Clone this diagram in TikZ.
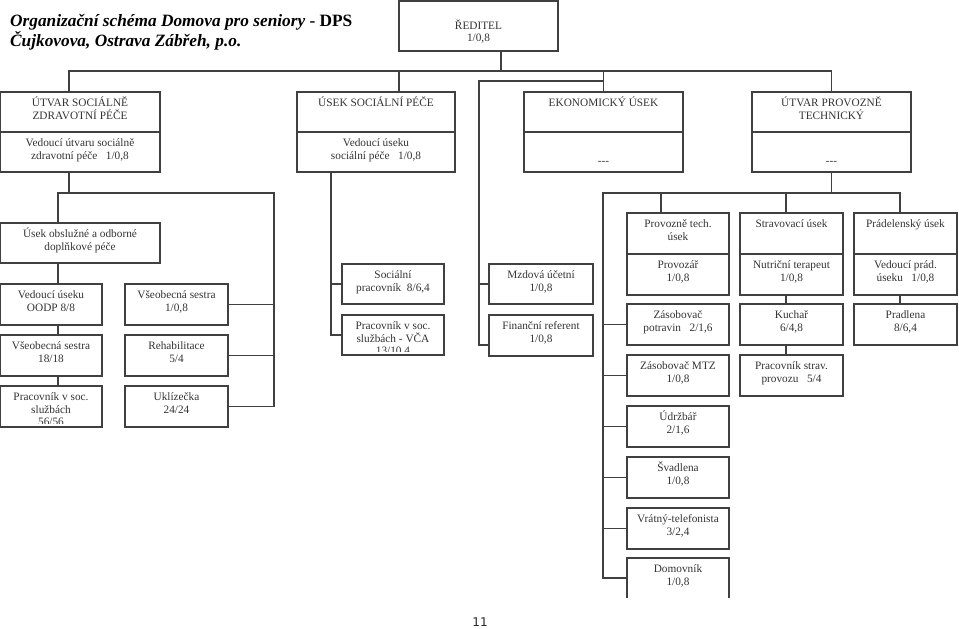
\documentclass[tikz,border=0pt]{standalone}
\usepackage{fontspec}
\setmainfont{Liberation Serif}
\newfontfamily\titlebi{Liberation Serif Bold Italic}
\newfontfamily\titleb{Liberation Serif Bold}
\newfontfamily\pagefont{DejaVu Sans}
\usetikzlibrary{positioning}
\definecolor{linegray}{gray}{0.25}
\definecolor{textgray}{gray}{0.2}
\newcommand{\boxfont}{\fontsize{11.3}{12.7}\selectfont}

\begin{document}
\begin{tikzpicture}[x=1pt,y=-1pt,
% Box and text style
    textpad/.store in=\textpad, textpad=14.5pt,
    box/.style={rectangle,draw=linegray,line width=1.1pt,inner sep=0pt,
		outer sep=0pt,anchor=north west,minimum width=103pt,
		minimum height=41pt,
		path picture={\clip ([yshift=4pt]path picture bounding box.south west)
			rectangle (path picture bounding box.north east);
		  \node[boxtext] at ([yshift=-\textpad]path picture bounding box.north)
			{\parbox[t]{200pt}{\centering\boxfont #1}};}},
    boxtext/.style={anchor=base,inner sep=0pt,minimum width=0pt,
		minimum height=0pt,text=textgray},
    wide/.style={minimum width=159pt,minimum height=40pt},
% Connector style
    line/.style={draw=linegray,line width=1.1pt},
    node distance=10pt
    ]
    \useasboundingbox (0,0) rectangle (959,629);
%% Title and page number
    \node[anchor=base west,inner sep=0pt] (title) at (10,27)
	{\parbox[t]{400pt}{\fontsize{17.3}{20}\selectfont
	{\titlebi Organizační schéma Domova pro seniory }{\titleb - DPS}\\
	{\titlebi Čujkovova, Ostrava Zábřeh, p.o.}}};
    \node[font=\pagefont\fontsize{12}{14}\selectfont,text=black!85] (pagenum)
	at (480,622) {11};
%% Director and divisions
    \node[box={ŘEDITEL\\[-1.7pt]1/0,8},wide,minimum height=50pt,
	textpad=29pt] (dir) at (399,1) {};
    \node[box={ÚTVAR SOCIÁLNĚ\\ZDRAVOTNÍ PÉČE},wide,minimum width=160pt]
	(utvar) at (0,92) {};
    \node[box={Vedoucí útvaru sociálně\\zdravotní péče~~~1/0,8},wide,
	minimum width=160pt,below=0pt of utvar] (utvarv) {};
    \node[box={ÚSEK SOCIÁLNÍ PÉČE},wide,minimum width=158pt] (usek) at (297,92) {};
    \node[box={Vedoucí úseku\\sociální péče~~~1/0,8},wide,minimum width=158pt,
	below=0pt of usek] (usekv) {};
    \node[box={EKONOMICKÝ ÚSEK},wide] (ekon) at (524,92) {};
    \node[box={\mbox{-}\mbox{-}\mbox{-}},wide,textpad=32pt,
	below=0pt of ekon] (ekonv) {};
    \node[box={ÚTVAR PROVOZNĚ\\TECHNICKÝ},wide] (prov) at (752,92) {};
    \node[box={\mbox{-}\mbox{-}\mbox{-}},wide,textpad=32pt,
	below=0pt of prov] (provv) {};
%% Social and health care
    \node[box={Úsek obslužné a odborné\\doplňkové péče},wide,minimum width=160pt]
	(obsl) at (0,223) {};
    \node[box={Vedoucí úseku\\OODP 8/8},minimum width=102pt] (vedo) at (0,284) {};
    \node[box={Všeobecná sestra\\18/18},minimum width=102pt,
	below=of vedo] (sestra18) {};
    \node[box={Pracovník v soc.\\službách\\56/56},minimum width=102pt,
	below=of sestra18] (prac56) {};
    \node[box={Všeobecná sestra\\1/0,8}] (sestra1) at (125,284) {};
    \node[box={Rehabilitace\\5/4},below=of sestra1] (rehab) {};
    \node[box={Uklízečka\\24/24},below=of rehab] (ukliz) {};
%% Social care
    \node[box={Sociální\\pracovník~~8/6,4},minimum width=102pt,
	minimum height=40pt] (socprac) at (342,264) {};
    \node[box={Pracovník v soc.\\službách - VČA\\13/10,4},minimum width=102pt,
	minimum height=40pt,below=11pt of socprac] (pracvca) {};
%% Economy
    \node[box={Mzdová účetní\\1/0,8},minimum width=104pt,minimum height=40pt]
	(mzd) at (489,264) {};
    \node[box={Finanční referent\\1/0,8},minimum width=104pt,
	below=11pt of mzd] (fin) {};
%% Operations
    \node[box={Provozně tech.\\úsek},minimum width=102pt] (provt) at (627,213) {};
    \node[box={Provozář\\1/0,8},minimum width=102pt,below=0pt of provt] (provtv) {};
    \node[box={Zásobovač\\potravin~~~2/1,6},minimum width=102pt,
	below=9pt of provtv] (zaspot) {};
    \node[box={Zásobovač MTZ\\1/0,8},minimum width=102pt,below=of zaspot] (zasmtz) {};
    \node[box={Údržbář\\2/1,6},minimum width=102pt,below=of zasmtz] (udrz) {};
    \node[box={Švadlena\\1/0,8},minimum width=102pt,below=of udrz] (svad) {};
    \node[box={Vrátný-telefonista\\3/2,4},minimum width=102pt,below=of svad] (vrat) {};
    \node[box={Domovník\\1/0,8},draw=none,minimum width=102pt,minimum height=40pt,
	below=9pt of vrat] (domov) {};
    \draw[line] (domov.south west) |- (domov.north east) -- (domov.south east);
    \node[box={Stravovací úsek}] (strav) at (740,213) {};
    \node[box={Nutriční terapeut\\1/0,8},below=0pt of strav] (stravv) {};
    \node[box={Kuchař\\6/4,8},below=9pt of stravv] (kuchar) {};
    \node[box={Pracovník strav.\\provozu~~~5/4},below=of kuchar] (pracstrav) {};
    \node[box={Prádelenský úsek}] (prad) at (854,213) {};
    \node[box={Vedoucí prád.\\úseku~~~1/0,8},below=0pt of prad] (pradv) {};
    \node[box={Pradlena\\8/6,4},below=9pt of pradv] (pradlena) {};
%% Connectors
    \coordinate (bus) at (501,71);
    \coordinate (ekt) at (479,81);
    \coordinate (lrail) at (274,193);
    \coordinate (prail) at (603,193);
    \coordinate (utv) at ([xshift=-11pt]utvar.north);
    \coordinate (usk) at ([xshift=23pt]usek.north);
    \coordinate (obx) at ([xshift=-22pt]obsl.north);
    \coordinate (strk) at ([xshift=-45pt]usekv.south);
    \coordinate (ptx) at ([xshift=-17pt]provt.north);
    \coordinate (stx) at ([xshift=-5.5pt]strav.north);
    \coordinate (pdx) at ([xshift=-5.5pt]prad.north);
    \draw[line] (bus |- dir.south) -- (bus);
    \draw[line] (utv) |- (bus) -| (prov.north);
    \draw[line] (usk) -- (usk |- bus);
    \draw[line] (ekon.north) -- (ekon.north |- bus);
    \draw[line] (ekon.north |- ekt) -- (ekt) |- ([yshift=-9.5pt]fin.west);
    \draw[line] (ekt |- mzd.west) -- (mzd.west);
    \draw[line] (utv |- utvarv.south) -- (utv |- lrail);
    \draw[line] (obx) |- (lrail) |- (ukliz.east);
    \foreach \n in {sestra1,rehab}
	\draw[line] (lrail |- \n.east) -- (\n.east);
    \foreach \a/\b in {obsl/vedo,vedo/sestra18,sestra18/prac56}
	\draw[line] (obx |- \a.south) -- (obx |- \b.north);
    \draw[line] (strk) |- (pracvca.west);
    \draw[line] (strk |- socprac.west) -- (socprac.west);
    \draw[line] (provv.south) -- (provv.south |- prail);
    \draw[line] (domov.west) -| (prail) -| (pdx);
    \draw[line] (ptx |- prail) -- (ptx);
    \draw[line] (stx |- prail) -- (stx);
    \foreach \n in {zaspot,zasmtz,udrz,svad,vrat}
	\draw[line] (prail |- \n.west) -- (\n.west);
    \foreach \a/\b in {stravv/kuchar,kuchar/pracstrav}
	\draw[line] (stx |- \a.south) -- (stx |- \b.north);
    \draw[line] (pdx |- pradv.south) -- (pdx |- pradlena.north);
\end{tikzpicture}
\end{document}
